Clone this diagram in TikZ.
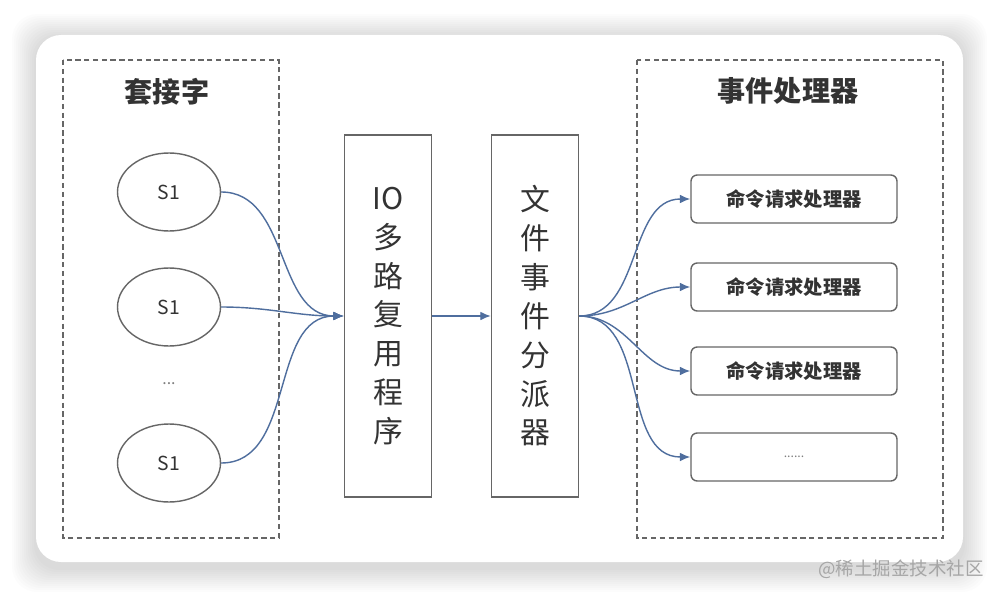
\documentclass[tikz,border=0pt]{standalone}
\usepackage{fontspec}
\setmainfont{Noto Sans CJK SC}
\usepackage{tikz}
\usetikzlibrary{shapes.geometric}
\usetikzlibrary{arrows.meta}
\definecolor{linkblue}{HTML}{4F6E9E}
\definecolor{inkgray}{HTML}{333333}
\definecolor{framegray}{HTML}{666666}

\begin{document}
\begin{tikzpicture}[x=0.02cm, y=-0.02cm,
    sock/.style={ellipse, draw=framegray, thick, minimum width=2.06cm, minimum height=1.56cm, font=\fontsize{11}{13}\selectfont, text=inkgray},
    tallbox/.style={rectangle, draw=framegray, thick, minimum width=1.74cm, minimum height=7.24cm, align=center, font=\fontsize{17}{22.1}\selectfont, text=inkgray},
    handler/.style={rectangle, rounded corners=3.5pt, draw=framegray, thick, minimum width=4.12cm, minimum height=0.96cm, font=\bfseries\fontsize{11}{13}\selectfont, text=inkgray},
    group/.style={draw=framegray, thick, dash pattern=on 3pt off 2pt},
    link/.style={draw=linkblue, thick, -{Latex[length=6pt, width=5pt]}}]

        % Background and card
        \useasboundingbox (0, 0) rectangle (1000, 598);
        \fill[white] (0, 0) rectangle (1000, 598);
        \foreach \s in {2, 4, ..., 24}
            \fill[black, opacity=0.01, rounded corners=0.5cm] (36-\s, 38-\s) rectangle (963+\s, 568+\s);
        \fill[white, rounded corners=0.5cm] (36, 35) rectangle (963, 562);

        % Groups
        \draw[group] (63, 60) rectangle (279, 538);
        \draw[group] (637, 60) rectangle (943, 538);
        \node[font=\bfseries\fontsize{16}{18}\selectfont, text=inkgray] (sockets) at (167, 92) {套接字};
        \node[font=\bfseries\fontsize{16}{18}\selectfont, text=inkgray] (handlers) at (788, 91) {事件处理器};

        % Nodes
        \node[sock] (s1) at (169, 192) {S1};
        \node[sock] (s2) at (169, 307) {S1};
        \node[text=gray, font=\small] (more) at (169, 384) {...};
        \node[sock] (s3) at (169, 463) {S1};
        \node[tallbox] (io) at (388, 316) {IO\\多\\路\\复\\用\\程\\序};
        \node[tallbox] (disp) at (535, 316) {文\\件\\事\\件\\分\\派\\器};
        \node[handler] (h1) at (794, 199) {命令请求处理器};
        \node[handler] (h2) at (794, 287) {命令请求处理器};
        \node[handler] (h3) at (794, 371) {命令请求处理器};
        \node[handler, font=\scriptsize, text=gray] (h4) at (794, 457) {......};

        % Lines
        \draw[link] (s1.east) to[out=0, in=180] (io.west);
        \draw[link] (s2.east) to[out=0, in=180] (io.west);
        \draw[link] (s3.east) to[out=0, in=180] (io.west);
        \draw[link] (io.east) -- (disp.west);
        \draw[link] (disp.east) to[out=0, in=180] (h1.west);
        \draw[link] (disp.east) to[out=0, in=180] (h2.west);
        \draw[link] (disp.east) to[out=0, in=180] (h3.west);
        \draw[link] (disp.east) to[out=0, in=180] (h4.west);

        % Watermark
        \node[text=gray!70, font=\fontsize{10.5}{12}\selectfont] (mark) at (901, 569) {@稀土掘金技术社区};
    \end{tikzpicture}
\end{document}
